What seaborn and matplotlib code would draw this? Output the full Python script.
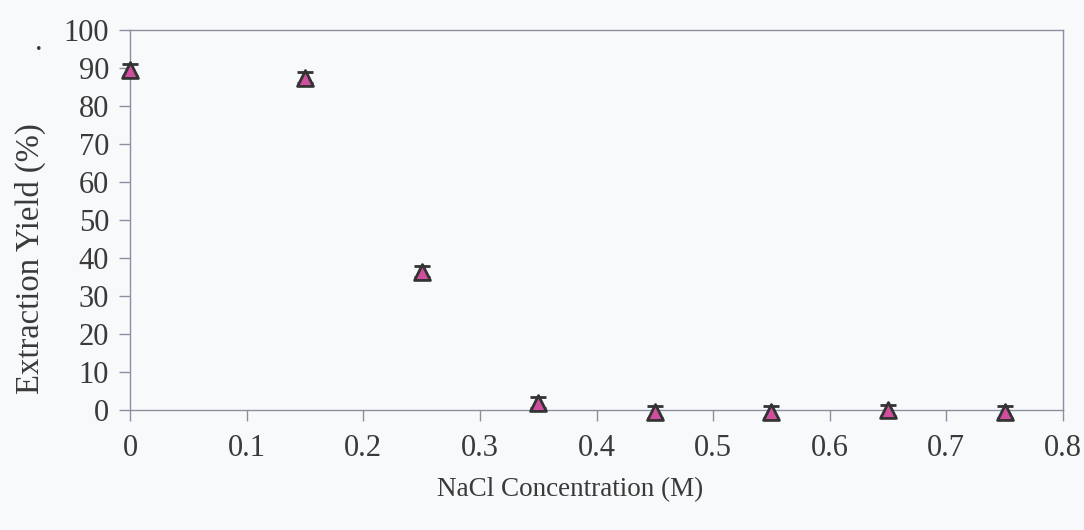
import matplotlib
matplotlib.use("Agg")
import matplotlib.pyplot as plt
import seaborn as sns
import pandas as pd

# Data
nacl_conc = [0.0, 0.15, 0.25, 0.35, 0.45, 0.55, 0.65, 0.75]
extraction_yield = [89.5, 87.5, 36.5, 2.0, -0.5, -0.5, 0.0, -0.5]
yield_err = [1.5, 1.5, 1.5, 1.5, 1.5, 1.5, 1.5, 1.5]
x_ticks = [0, 0.1, 0.2, 0.3, 0.4, 0.5, 0.6, 0.7, 0.8]
x_tick_labels = ["0", "0.1", "0.2", "0.3", "0.4", "0.5", "0.6", "0.7", "0.8"]
y_ticks = [0, 10, 20, 30, 40, 50, 60, 70, 80, 90, 100]

df = pd.DataFrame({"NaCl": nacl_conc, "Yield": extraction_yield, "err": yield_err})

sns.set_style("ticks")
plt.rcParams["font.family"] = ["Liberation Serif", "DejaVu Serif"]

bg = "#f8f9fb"
spine_col = "#8a90a0"
text_col = "#3a3a3a"

fig = plt.figure(figsize=(10.84, 5.30), dpi=100, facecolor=bg)
ax = fig.add_axes([0.12, 0.226, 0.8606, 0.717])
ax.set_facecolor(bg)

eb = ax.errorbar(df["NaCl"], df["Yield"], yerr=df["err"], fmt="none",
                 ecolor="#333333", elinewidth=1.5, capsize=6, capthick=2, zorder=2)
for art in eb.lines[1] + eb.lines[2]:
    art.set_clip_on(False)
sns.scatterplot(data=df, x="NaCl", y="Yield", ax=ax, marker="^", s=130,
                color="#cf4f9e", edgecolor="#333333", linewidth=2, zorder=3,
                legend=False, clip_on=False)

ax.set_xlim(0, 0.8)
ax.set_ylim(0, 100)
ax.set_xticks(x_ticks)
ax.set_xticklabels(x_tick_labels)
ax.set_yticks(y_ticks)

for s in ax.spines.values():
    s.set_color(spine_col)
    s.set_linewidth(1.0)
    s.set_visible(True)

ax.tick_params(axis="both", colors=spine_col, labelcolor=text_col,
               labelsize=22, length=8, width=1.0)
ax.tick_params(axis="x", pad=9)
ax.tick_params(axis="y", pad=7)

ax.set_xlabel("NaCl Concentration (M)", fontsize=19.5, color=text_col)
ax.set_ylabel("Extraction Yield (%)", fontsize=23.5, color=text_col)
ax.xaxis.set_label_coords(0.4716, -0.176)
ax.yaxis.set_label_coords(-0.090, 0.40)

fig.text(0.032, 0.905, ".", fontsize=22, color=text_col)

fig.savefig("out.png", dpi=100, facecolor=bg)
